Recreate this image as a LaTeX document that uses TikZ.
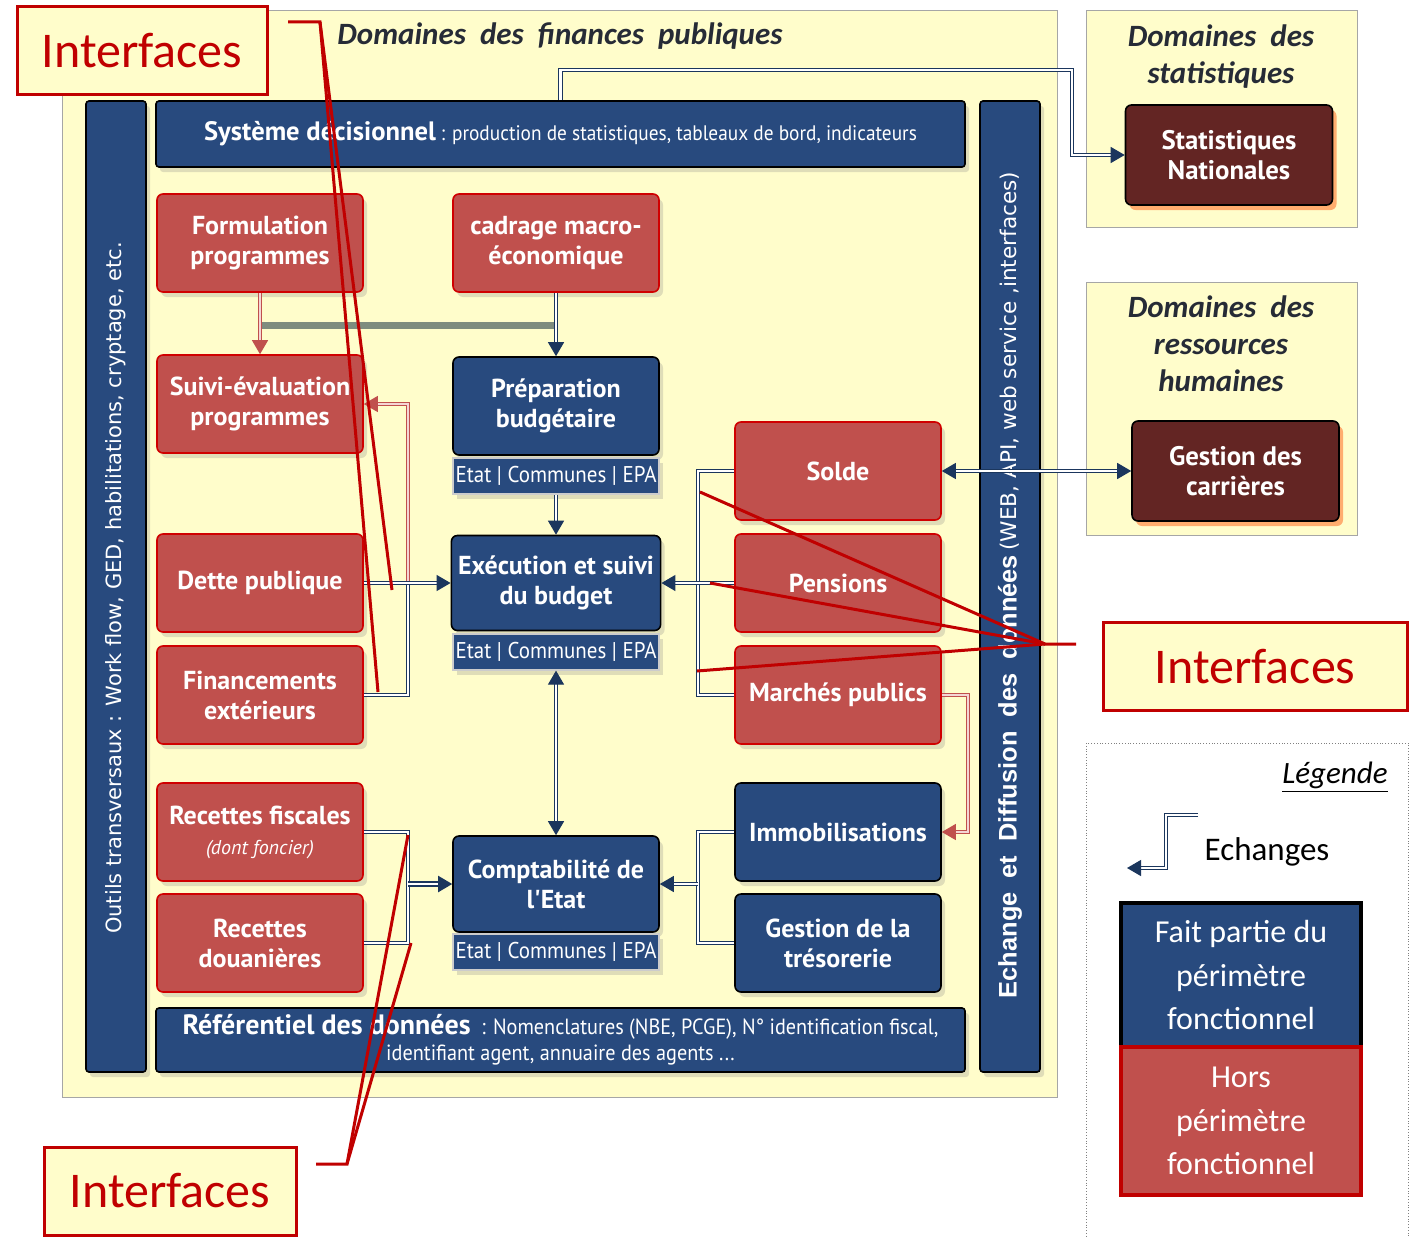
\documentclass[tikz,border=0pt]{standalone}
\usepackage{fontspec}
\setmainfont{Carlito}
\newfontfamily\boxfont{PT Sans}
\newfontfamily\narrowfont{PT Sans}[FakeStretch=0.92]
\newfontfamily\barfont{DejaVu Sans}
\newfontfamily\arialfont{Liberation Sans}
\usetikzlibrary{arrows.meta,shadows}
\definecolor{navy}{HTML}{1B365D}
\definecolor{boxblue}{HTML}{284A7E}
\definecolor{boxred}{HTML}{C0504D}
\definecolor{edgered}{HTML}{D00000}
\definecolor{maroon}{HTML}{632523}
\definecolor{cream}{HTML}{FFFDCB}
\definecolor{ifred}{HTML}{C00000}
\definecolor{titlegray}{HTML}{262B36}
\definecolor{bandgray}{HTML}{7E8C7E}
\definecolor{pinkline}{HTML}{F4D6D5}

\begin{document}
\begin{tikzpicture}[x=0.5pt,y=-0.5pt,
    link/.style={draw=navy,double=white,double distance=1.1pt,line width=.6pt},
    rlink/.style={draw=boxred,double=pinkline,double distance=1.1pt,line width=.6pt},
    iface/.style={draw=ifred,line width=1.5pt}]
\useasboundingbox (0,0) rectangle (1422,1236);
% domaines
\draw [gray!70,fill=cream] (62,10) rectangle (1057,1097);
\draw [gray!70,fill=cream] (1086,10) rectangle (1357,227);
\draw [gray!70,fill=cream] (1086,282) rectangle (1357,535);
\draw [gray,densely dotted,fill=white] (1086,743) rectangle (1408,1250);
\begin{scope}[every node/.style={text=titlegray,align=center,font=\bfseries\itshape\fontsize{15.5}{18.5}\selectfont}]
	\node (T1) at (560,36) {Domaines\ \ des\ \ finances\ \ publiques};
	\node (T2) at (1221,57) {Domaines\ \ des\\statistiques};
	\node (T3) at (1221,344) {Domaines\ \ des\\ressources\\humaines};
\end{scope}
% bandeaux
\begin{scope}[every node/.style={rectangle,rounded corners=1.5pt,draw=black,fill=boxblue,text=white,line width=.8pt,
		drop shadow={opacity=.25,shadow xshift=2pt,shadow yshift=-2.5pt}}]
	\node [minimum width=30pt,minimum height=485.5pt] (OT) at (116,586.5) {};
	\node [minimum width=30pt,minimum height=485.5pt] (ED) at (1010,586.5) {};
	\node [minimum width=404.5pt,minimum height=33pt] (SD) at (560.5,134)
		{{\boxfont\bfseries\fontsize{13.3}{15}\selectfont Système décisionnel}{\narrowfont\fontsize{10.5}{12}\selectfont\ : production de statistiques, tableaux de bord, indicateurs}};
	\node [minimum width=404.5pt,minimum height=32pt,align=center,inner sep=1pt,font=\narrowfont\fontsize{11}{13}\selectfont] (RE) at (560.5,1040)
		{{\boxfont\bfseries\fontsize{14}{13}\selectfont Référentiel des données}\ \ : Nomenclatures (NBE, PCGE), N° identification fiscal,\\identifiant agent, annuaire des agents ...};
\end{scope}
\node [rotate=90,text=white,font=\barfont\fontsize{10.5}{12}\selectfont] (OTt) at (116,588)
	{Outils transversaux : Work flow, GED, habilitations, cryptage, etc.};
\node [rotate=90,text=white] (EDt) at (1010,585)
	{{\arialfont\bfseries\fontsize{12.7}{14}\selectfont Echange\ \ et\ \ Diffusion\ \ des\ \ données}\ {\barfont\fontsize{10.8}{12}\selectfont (WEB, API, web service ,interfaces)}};
% hors perimetre
\begin{scope}[every node/.style={rectangle,rounded corners=3pt,draw=edgered,fill=boxred,text=white,line width=.8pt,
		minimum width=103pt,minimum height=49pt,align=center,font=\boxfont\bfseries\fontsize{13}{15}\selectfont,
		drop shadow={opacity=.25,shadow xshift=2pt,shadow yshift=-2.5pt}}]
	\node (F) at (260,243) {Formulation\\programmes};
	\node (C) at (556,243) {cadrage macro-\\économique};
	\node (S) at (260,404) {Suivi-évaluation\\programmes};
	\node (D) at (260,583) {Dette publique};
	\node (FE) at (260,695) {Financements\\extérieurs};
	\node (RF) at (260,832) {Recettes fiscales\\{\mdseries\itshape\fontsize{10}{11}\selectfont (dont foncier)}};
	\node (RD) at (260,943) {Recettes\\douanières};
	\node (SO) at (838,471) {Solde};
	\node (PE) at (838,583) {Pensions};
	\node (MP) at (838,695) {Marchés publics};
\end{scope}
% perimetre fonctionnel
\begin{scope}[every node/.style={rectangle,rounded corners=3pt,draw=black,fill=boxblue,text=white,line width=.8pt,
		minimum width=103pt,minimum height=49pt,align=center,font=\boxfont\bfseries\fontsize{13}{15}\selectfont,
		drop shadow={opacity=.25,shadow xshift=2pt,shadow yshift=-2.5pt}}]
	\node (P) at (556,406) {Préparation\\budgétaire};
	\node [minimum height=47.5pt] (E) at (556,583) {Exécution et suivi\\du budget};
	\node [minimum height=48pt] (K) at (556,884) {Comptabilité de\\l'Etat};
	\node (IM) at (838,832) {Immobilisations};
	\node (GT) at (838,943) {Gestion de la\\trésorerie};
\end{scope}
\begin{scope}[every node/.style={rectangle,draw=white!80!black,fill=boxblue,text=white,line width=.6pt,
		minimum width=103pt,minimum height=18pt,inner sep=0pt,font=\narrowfont\fontsize{11.4}{12}\selectfont,
		drop shadow={opacity=.25,shadow xshift=2pt,shadow yshift=-2.5pt}}]
	\node (Ps) at (556,476) {Etat | Communes | EPA};
	\node (Es) at (556,652) {Etat | Communes | EPA};
	\node (Ks) at (556,952) {Etat | Communes | EPA};
\end{scope}
% autres domaines
\begin{scope}[every node/.style={rectangle,rounded corners=3pt,draw=black,fill=maroon,text=white,line width=.8pt,
		minimum width=103.5pt,minimum height=50pt,align=center,font=\boxfont\bfseries\fontsize{13.4}{15}\selectfont,
		drop shadow={opacity=.45,fill=orange!60!red,shadow xshift=2pt,shadow yshift=-2.5pt}}]
	\node (SN) at (1229,155) {Statistiques\\Nationales};
	\node (GC) at (1235.5,471) {Gestion des\\carrières};
\end{scope}
% interfaces
\begin{scope}[every node/.style={rectangle,draw=ifred,line width=1.5pt,fill=cream,text=ifred,
		minimum height=44pt,font=\fontsize{25}{30}\selectfont}]
	\node [minimum width=125pt] (I1) at (142,51) {Interfaces};
	\node [minimum width=152pt] (I2) at (1255,666.5) {Interfaces};
	\node [minimum width=126pt] (I3) at (170,1191) {Interfaces};
\end{scope}
% legende
\node [font=\itshape\fontsize{15.5}{18}\selectfont] (L0) at (1335,777) {\underline{Légende}};
\node [font=\fontsize{16.5}{20}\selectfont] (L1) at (1267,852) {Echanges};
\begin{scope}[every node/.style={rectangle,line width=2pt,text=white,minimum width=120pt,align=center,
		font=\fontsize{16}{21.75}\selectfont}]
	\node [draw=black,fill=boxblue,minimum height=72pt] (LB) at (1241,975) {Fait partie du\\périmètre\\fonctionnel};
	\node [draw=ifred,fill=boxred,minimum height=74pt] (LR) at (1241,1121) {Hors\\périmètre\\fonctionnel};
\end{scope}
% points de jonction
\coordinate (s1) at (1072,70);
\coordinate (g1) at (556,325);
\coordinate (j1) at (408,583);
\coordinate (j2) at (698,583);
\coordinate (j3) at (698,884);
\coordinate (j4) at (408,884);
\coordinate (r1) at (968,760);
\coordinate (e0) at (1198,815);
\coordinate (e1) at (1166,840);
\coordinate (e2) at (1127,868);
% echanges
\draw [bandgray,line width=3.5pt] (F |- g1) -- (g1);
\begin{scope}[>={Triangle[length=7pt,width=8pt,fill=boxred]}]
	\draw [rlink,->] (j1) |- (S.east);
	\draw [rlink,->] (MP.east) -| (r1) |- (IM.east);
	\path [->] (F) edge [rlink] (S);
\end{scope}
\begin{scope}[>={Triangle[length=7pt,width=8pt]},
	every edge/.style={link}]
	\draw [link,->] (SD.north) |- (s1) |- (SN.west);
	\draw [link] (FE.east) -| (j1);
	\draw [link] (SO.west) -| (j2);
	\draw [link] (MP.west) -| (j2);
	\draw [link] (IM.west) -| (j3);
	\draw [link] (GT.west) -| (j3);
	\draw [link] (RF.east) -| (j4);
	\draw [link] (RD.east) -| (j4);
	\path [->] (C) edge (P);
	\path [->] (Ps) edge (E);
	\path [<->] (Es) edge (K);
	\path [->] (D) edge (E);
	\path [->] (PE) edge (E);
	\path [<->] (SO) edge (GC);
	\path [->] (j3) edge (K);
	\path [->] (j4) edge [line width=1pt] (K);
	\draw [link,->] (e0) -| (e1) |- (e2);
\end{scope}
% renvois interfaces
\coordinate (t0) at (288,22);
\coordinate (t1) at (320,22);
\coordinate (t2) at (392,590);
\coordinate (t3) at (378,692);
\coordinate (u0) at (1076,644);
\coordinate (u1) at (1045,644);
\coordinate (u2) at (700,492);
\coordinate (u3) at (710,583);
\coordinate (u4) at (697,671);
\coordinate (b0) at (316,1164);
\coordinate (b1) at (347,1164);
\coordinate (b2) at (408,835);
\coordinate (b3) at (411,943);
\draw [iface] (t0) -- (t1) -- (t2);
\draw [iface] (t1) -- (t3);
\draw [iface] (u0) -- (u1) -- (u2);
\draw [iface] (u1) -- (u3);
\draw [iface] (u1) -- (u4);
\draw [iface] (b0) -- (b1) -- (b2);
\draw [iface] (b1) -- (b3);
\end{tikzpicture}
\end{document}
